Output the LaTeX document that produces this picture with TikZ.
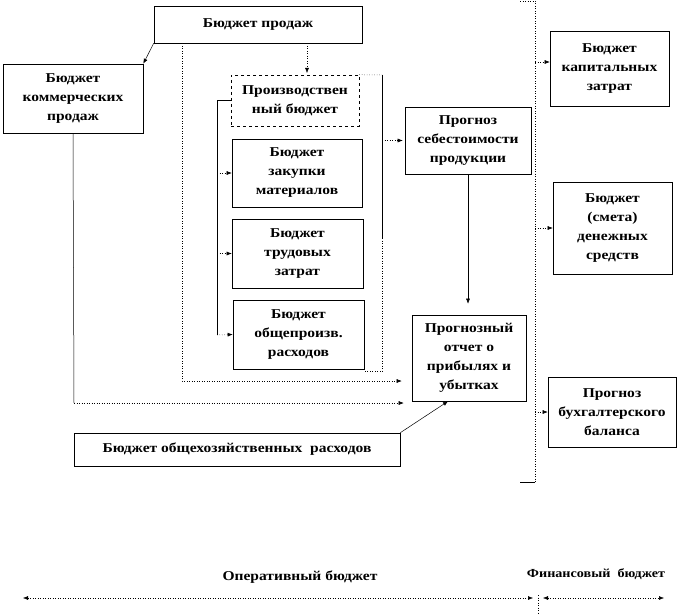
\documentclass[tikz,border=0pt]{standalone}
\usepackage{fontspec}
\setmainfont{Liberation Serif}
\newfontfamily\boxfont{Liberation Serif}[FakeStretch=1.15]
\usetikzlibrary{arrows.meta}
\begin{document}
\begin{tikzpicture}[x=1pt,y=-1pt,
  box/.style={draw=black, line width=0.6pt, fill=white, align=center, inner sep=0pt,
    font=\boxfont\fontsize{13.5}{19}\selectfont\bfseries},
  lbl/.style={inner sep=0pt, font=\boxfont\fontsize{13.5}{15}\selectfont\bfseries},
  conn/.style={line width=0.5pt},
  dots/.style={conn, dotted},
  arr/.style={-{Latex[length=5pt,width=4pt]}},
  darr/.style={{Latex[length=5pt,width=4pt]}-{Latex[length=5pt,width=4pt]}},
]
\useasboundingbox (0,0) rectangle (679,615);

% boxes
\node[box, minimum width=208pt, minimum height=37pt] (prod) at (258,24.5) {Бюджет продаж};
\node[box, minimum width=140pt, minimum height=69pt] (comm) at (73,98.5) {Бюджет\\коммерческих\\продаж};
\node[box, dashed, minimum width=128pt, minimum height=51pt] (proizv) at (295,100.5) {Производствен\\ный бюджет};
\node[box, minimum width=130pt, minimum height=68pt] (zakup) at (297,173) {Бюджет\\закупки\\материалов};
\node[box, minimum width=131pt, minimum height=69pt] (trud) at (297.5,253.5) {Бюджет\\трудовых\\затрат};
\node[box, minimum width=131pt, minimum height=69pt] (obshch) at (298.5,334.5) {Бюджет\\общепроизв.\\расходов};
\node[box, minimum width=126pt, minimum height=67pt] (sebest) at (468,140.5) {Прогноз\\себестоимости\\продукции};
\node[box, minimum width=114pt, minimum height=86pt] (otchet) at (469,358) {Прогнозный\\отчет о\\прибылях и\\убытках};
\node[box, minimum width=326pt, minimum height=33pt] (ohr) at (237,449.5) {Бюджет общехозяйственных\ \ расходов};
\node[box, minimum width=119pt, minimum height=75pt] (kap) at (609.5,68.5) {Бюджет\\капитальных\\затрат};
\node[box, minimum width=119pt, minimum height=92pt] (den) at (612.5,228) {Бюджет\\(смета)\\денежных\\средств};
\node[box, minimum width=128pt, minimum height=70pt] (bal) at (612,412) {Прогноз\\бухгалтерского\\баланса};

% bottom labels
\node[lbl] (op) at (300,577) {Оперативный бюджет};
\node[lbl, font=\boxfont\fontsize{12.3}{15}\selectfont\bfseries] (fin) at (596,574) {Финансовый\ \ бюджет};

% coordinates
\coordinate (vx) at (182,381);
\coordinate (pd) at (307,75);
\coordinate (bx) at (217,335);
\coordinate (fx1) at (382,75);
\coordinate (fxm) at (382,238);
\coordinate (fx2) at (382,371);
\coordinate (cx) at (74,403);
\coordinate (bt0) at (520,1);
\coordinate (bt) at (535,1);
\coordinate (bb) at (535,482);
\coordinate (bb0) at (520,482);
\coordinate (a1) at (23,598);
\coordinate (a2) at (533,598);
\coordinate (a3) at (543,598);
\coordinate (a4) at (664,598);
\coordinate (t1) at (538,595);
\coordinate (t2) at (538,613);

% connectors
\draw[conn,arr] (prod.south west) -- (comm.north east);
\draw[dots,arr,shorten >=10pt] (prod.south -| vx) -- (vx) -- (vx -| otchet.west);
\draw[dots,arr,shorten >=2pt] (prod.south -| pd) -- (pd);
\draw[conn] (proizv.west) -- (proizv.west -| bx) -- (bx);
\draw[dots,arr] (zakup.west -| bx) -- (zakup.west);
\draw[dots,arr] (trud.west -| bx) -- (trud.west);
\draw[dots,arr] (bx) -- (obshch.west);
\draw[dots] (proizv.north east) -- (fx1);
\draw[conn] (fx1) -- (fxm);
\draw[dots] (fxm) -- (fx2) -- (fx2 -| obshch.east);
\draw[dots,arr,shorten >=2pt] (fx1 |- sebest.west) -- (sebest.west);
\draw[conn,arr,shorten >=11pt] (sebest.south) -- (sebest.south |- otchet.north);
\draw[conn] (comm.south) -- (cx);
\draw[dots,arr,shorten >=8pt] (cx) -- (cx -| otchet.west);
\draw[conn,arr] (ohr.north east) -- ([xshift=-21pt]otchet.south);
\draw[dots] (bt0) -- (bt) -- (bb);
\draw[conn] (bb) -- (bb0);
\draw[dots,arr] ([yshift=6.5pt]bt |- kap.west) -- ([yshift=6.5pt]kap.west);
\draw[dots,arr] (bt |- den.west) -- (den.west);
\draw[dots,arr] (bt |- bal.west) -- (bal.west);

\draw[dots,darr] (a1) -- (a2);
\draw[dots,darr] (a3) -- (a4);
\draw[dots] (t1) -- (t2);
\end{tikzpicture}
\end{document}
